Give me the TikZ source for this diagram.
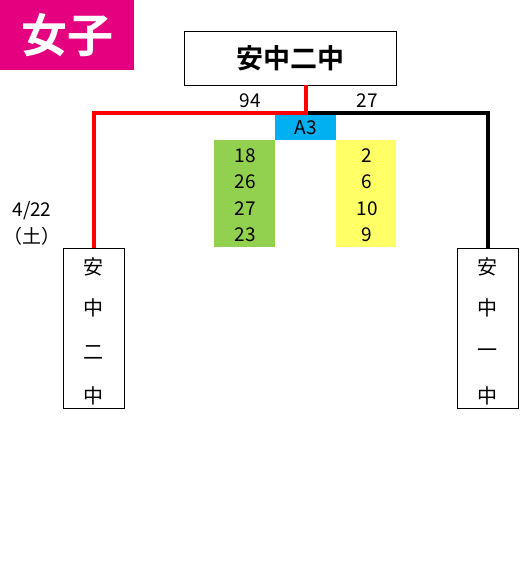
\documentclass[tikz,border=0pt]{standalone}
\usepackage{fontspec}
\setmainfont{Noto Sans CJK JP}[BoldFont={* Bold}]
\definecolor{titlepink}{HTML}{E4007F}
\definecolor{acyan}{HTML}{00B0F0}
\definecolor{agreen}{HTML}{92D050}
\definecolor{ayellow}{HTML}{FFFF66}
\definecolor{lred}{HTML}{FF0000}
\begin{document}
\begin{tikzpicture}[x=1pt,y=-1pt,
  num/.style={font=\fontsize{19}{19}\selectfont, inner sep=0pt},
  vchar/.style={font=\fontsize{20}{20}\selectfont, inner sep=0pt},
  team/.style={draw=black, line width=1.2pt, fill=white},
  wire/.style={line width=4pt}]
\useasboundingbox (0,0) rectangle (521,580);
\fill[white] (0,0) rectangle (521,580);
% title
\node[fill=titlepink, minimum width=134pt, minimum height=70pt, inner sep=0pt, anchor=north west,
  text=white, font=\fontsize{46}{46}\selectfont\bfseries] (title) at (0,0) {女子};
% top team
\node[team, minimum width=212pt, minimum height=54pt, inner sep=0pt, anchor=north west,
  font=\fontsize{27}{27}\selectfont\bfseries] (top) at (184,31) {安中二中};
% colored boxes
\node[fill=acyan, minimum width=61pt, minimum height=25pt, inner sep=0pt, anchor=north west,
  font=\fontsize{19}{19}\selectfont] (a3) at (275,115) {A3};
\node[fill=agreen, minimum width=61pt, minimum height=107pt, inner sep=0pt, anchor=north west] (gbox) at (214,140) {};
\node[fill=ayellow, minimum width=60pt, minimum height=107pt, inner sep=0pt, anchor=north west] (ybox) at (336,140) {};
\node[num] (g1) at (245,156) {18};
\node[num] (g2) at (245,182) {26};
\node[num] (g3) at (245,209) {27};
\node[num] (g4) at (245,235) {23};
\node[num] (y1) at (367,156) {2};
\node[num] (y2) at (367,182) {6};
\node[num] (y3) at (367,209) {10};
\node[num] (y4) at (367,235) {9};
% scores
\node[num] (s1) at (250,101) {94};
\node[num] (s2) at (367,101) {27};
% side teams
\node[team, minimum width=61pt, minimum height=160pt, inner sep=0pt, anchor=north west] (left) at (63,248) {};
\node[team, minimum width=61pt, minimum height=160pt, inner sep=0pt, anchor=north west] (right) at (457,248) {};
\node[vchar] (l1) at (93.5,267) {安};
\node[vchar] (l2) at (93.5,308) {中};
\node[vchar] (l3) at (93.5,353) {二};
\node[vchar] (l4) at (93.5,396) {中};
\node[vchar] (r1) at (487.5,267) {安};
\node[vchar] (r2) at (487.5,308) {中};
\node[vchar] (r3) at (487.5,353) {一};
\node[vchar] (r4) at (487.5,396) {中};
% date
\node[font=\fontsize{19}{19}\selectfont, inner sep=0pt] (date) at (32,211) {4/22};
\node[font=\fontsize{19}{19}\selectfont, inner sep=0pt] (day) at (32,236) {（土）};
% wires
\coordinate (j) at (306,113);
\draw[wire, black] (j) -- (488,113) -- (488,248);
\draw[wire, lred] (306,85) -- (j) -- (94,113) -- (94,248);
\end{tikzpicture}
\end{document}
